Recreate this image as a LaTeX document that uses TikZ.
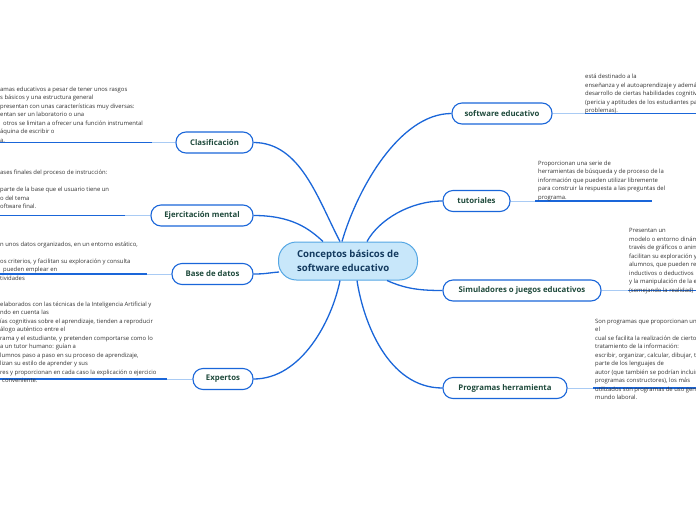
\documentclass[tikz,border=0pt]{standalone}
\usepackage{fontspec}
\setmainfont{Open Sans}
\usetikzlibrary{calc}
\definecolor{lnk}{HTML}{1A66D9}
\definecolor{lightlnk}{HTML}{A9CBF4}
\definecolor{nodetxt}{HTML}{1F4A3C}
\definecolor{desctxt}{HTML}{333333}
\definecolor{cfill}{HTML}{C8E7FA}
\definecolor{cdraw}{HTML}{55A7E4}
\definecolor{ctxt}{HTML}{12395E}
\begin{document}
\begin{tikzpicture}[x=1pt,y=-1pt,
  sub/.style={draw=lnk, line width=1.1pt, rounded corners=10pt, fill=white, text=nodetxt,
    font=\fontsize{7.8}{9}\selectfont\bfseries, minimum height=21pt, inner sep=0pt},
  mainnode/.style={draw=cdraw, line width=1pt, rounded corners=18pt, fill=cfill, text=ctxt,
    font=\fontsize{9.6}{13.3}\selectfont\bfseries, minimum height=38pt, minimum width=139pt,
    align=left, inner sep=0pt},
  conn/.style={draw=lnk, line width=1.3pt},
  stub/.style={draw=lightlnk, line width=0.9pt},
  bar/.style={draw=lnk, line width=1.8pt},
  desc/.style={anchor=north west, inner sep=0pt, align=left, text=desctxt,
    font=\fontsize{5.9}{8.5}\selectfont}]
\useasboundingbox (0,0) rectangle (696,520);

% central node
\node[mainnode] (c) at (348,261) {Conceptos básicos de\\software educativo};

% attachment points on central node
\coordinate (cClas) at ($(c.north)+(-8,0)$);
\coordinate (cSoft) at ($(c.north)+(-6,0)$);
\coordinate (cEjer) at ($(c.north)+(-25,0)$);
\coordinate (cTut)  at ($(c.north)+(19,0)$);
\coordinate (cBase) at ($(c.west)+(1,11)$);
\coordinate (cSim)  at ($(c.south)+(39,0)$);
\coordinate (cProg) at ($(c.south)+(9,0)$);
\coordinate (cExp)  at ($(c.south)+(-8,0)$);

% left nodes
\node[sub, minimum width=77pt]  (clas) at (214.5,142.5) {Clasificación};
\node[sub, minimum width=102pt] (ejer) at (202,215.5) {Ejercitación mental};
\node[sub, minimum width=81pt]  (base) at (212.5,274) {Base de datos};
\node[sub, minimum width=60pt]  (exp)  at (223,379) {Expertos};

% right nodes
\node[sub, minimum width=100pt] (soft) at (502,113.5) {software educativo};
\node[sub, minimum width=67pt]  (tut)  at (476.5,201) {tutoriales};
\node[sub, minimum width=158pt] (sim)  at (522,290.5) {Simuladores o juegos educativos};
\node[sub, minimum width=124pt] (prog) at (505,388) {Programas herramienta};

% connectors from central node
\draw[conn] (clas.east) .. controls ($(clas.east)+(47,0)$) and ($(cClas)+(-22,-42)$) .. (cClas);
\draw[conn] (soft.west) .. controls ($(soft.west)+(-52,0)$) and ($(cSoft)+(15,-52)$) .. (cSoft);
\draw[conn] (ejer.east) .. controls ($(ejer.east)+(38,0)$) and ($(cEjer)+(-14,-13)$) .. (cEjer);
\draw[conn] (tut.west) .. controls ($(tut.west)+(-32,0)$) and ($(cTut)+(12,-22)$) .. (cTut);
\draw[conn] (base.east) .. controls ($(base.east)+(12,0)$) and ($(cBase)+(-12,1)$) .. (cBase);
\draw[conn] (sim.west) .. controls ($(sim.west)+(-24,0)$) and ($(cSim)+(18,8)$) .. (cSim);
\draw[conn] (prog.west) .. controls ($(prog.west)+(-55,0)$) and ($(cProg)+(6,40)$) .. (cProg);
\draw[conn] (exp.east) .. controls ($(exp.east)+(48,0)$) and ($(cExp)+(-8,40)$) .. (cExp);

% stubs and bars
\coordinate (clasA) at (152,142.5);  \coordinate (clasB) at (0,142.5);
\coordinate (ejerA) at (125,215.5);  \coordinate (ejerB) at (0,215.5);
\coordinate (baseA) at (147,274);    \coordinate (baseB) at (0,274);
\coordinate (expA)  at (167,379);    \coordinate (expB)  at (0,379);
\coordinate (softA) at (585,113.5);  \coordinate (softB) at (696,113.5);
\coordinate (tutA)  at (535,201);    \coordinate (tutB)  at (652,201);
\coordinate (simA)  at (628,290.5);  \coordinate (simB)  at (696,290.5);
\coordinate (progA) at (593,388);    \coordinate (progB) at (696,388);

\draw[stub] (clas.west) -- (clasA);  \draw[bar] (clasA) -- (clasB);
\draw[stub] (ejer.west) -- (ejerA);  \draw[bar] (ejerA) -- (ejerB);
\draw[stub] (base.west) -- (baseA);  \draw[bar] (baseA) -- (baseB);
\draw[stub] (exp.west) -- (expA);    \draw[bar] (expA) -- (expB);
\draw[stub] (soft.east) -- (softA);  \draw[bar] (softA) -- (softB);
\draw[stub] (tut.east) -- (tutA);    \draw[bar] (tutA) -- (tutB);
\draw[stub] (sim.east) -- (simA);    \draw[bar] (simA) -- (simB);
\draw[stub] (prog.east) -- (progA);  \draw[bar] (progA) -- (progB);

% description texts, left
\node[desc] (tclas) at (0,86.5) {amas educativos a pesar de tener unos rasgos\\
s básicos y una estructura general\\
presentan con unas características muy diversas:\\
entan ser un laboratorio o una\\
\hspace{3pt}otros se limitan a ofrecer una función instrumental\\
áquina de escribir o\\
a.};

\node[desc] (tejer) at (0,170) {ases finales del proceso de instrucción:\\
\mbox{}\\
parte de la base que el usuario tiene un\\
o del tema\\
oftware final.};

\node[desc] (tbase) at (0,241.5) {n unos datos organizados, en un entorno estático,\\
\mbox{}\\
os criterios, y facilitan su exploración y consulta\\
\hspace{3pt}pueden emplear en\\
tividades};

\node[desc] (texp) at (0,301.5) {elaborados con las técnicas de la Inteligencia Artificial y\\
ndo en cuenta las\\
ías cognitivas sobre el aprendizaje, tienden a reproducir\\
álogo auténtico entre el\\
rama y el estudiante, y pretenden comportarse como lo\\
a un tutor humano: guían a\\
lumnos paso a paso en su proceso de aprendizaje,\\
lizan su estilo de aprender y sus\\
res y proporcionan en cada caso la explicación o ejercicio\\
\hspace{2pt}conveniente.};

% description texts, right
\node[desc] (tsoft) at (585,74) {está destinado a la\\
enseñanza y el autoaprendizaje y además\\
desarrollo de ciertas habilidades cognitivas\\
(pericia y aptitudes de los estudiantes para\\
problemas).};

\node[desc] (ttut) at (538,160.5) {Proporcionan una serie de\\
herramientas de búsqueda y de proceso de la\\
información que pueden utilizar libremente\\
para construir la respuesta a las preguntas del\\
programa.};

\node[desc] (tsim) at (629,228.5) {Presentan un\\
modelo o entorno dinámico\\
través de gráficos o anima\\
facilitan su exploración y\\
alumnos, que pueden rea\\
inductivos o deductivos\\
y la manipulación de la es\\
(semejando la realidad)};

\node[desc] (tprog) at (595,318.5) {Son programas que proporcionan un\\
el\\
cual se facilita la realización de ciertos\\
tratamiento de la información:\\
escribir, organizar, calcular, dibujar, tr\\
parte de los lenguajes de\\
autor (que también se podrían incluir\\
programas constructores), los más\\
utilizados son programas de uso gene\\
mundo laboral.};
\end{tikzpicture}
\end{document}
